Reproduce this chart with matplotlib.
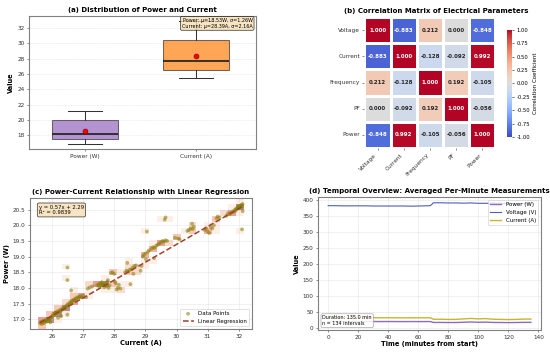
import numpy as np
import matplotlib
matplotlib.use("Agg")
import matplotlib.pyplot as plt
import seaborn as sns

# (a) box statistics
box_labels = ["Power (W)", "Current (A)"]
box_q1 = [17.48, 26.50]
box_med = [18.17, 27.74]
box_q3 = [19.96, 30.47]
box_lo = [16.86, 25.50]
box_hi = [21.14, 32.90]
box_mean = [18.53, 28.39]
box_std = [1.26, 2.16]

# (b) correlation matrix
corr_labels = ["Voltage", "Current", "Frequency", "PF", "Power"]
corr_vals = [
    [1.000, -0.883, 0.212, 0.000, -0.848],
    [-0.883, 1.000, -0.128, -0.092, 0.992],
    [0.212, -0.128, 1.000, 0.192, -0.105],
    [0.000, -0.092, 0.192, 1.000, -0.056],
    [-0.848, 0.992, -0.105, -0.056, 1.000],
]

# (c) scatter points (current, power)
sc_current = [25.62, 25.65, 25.68, 25.70, 25.72, 25.75, 25.78, 25.80, 25.83, 25.85, 25.88, 25.90,
              25.93, 25.96, 26.00, 26.03, 26.05, 26.08, 26.10, 26.13, 26.16, 26.18, 26.21, 26.24,
              26.27, 26.30, 26.33, 26.36, 26.39, 26.42, 26.45, 26.48, 26.51, 26.54, 26.57, 26.60,
              26.63, 26.66, 26.69, 26.72, 26.75, 26.78, 26.81, 26.85, 26.88, 26.92, 26.95, 27.00,
              26.50, 26.50, 26.50, 26.62, 26.20, 26.30, 25.95,
              27.10, 27.15, 27.22, 27.30,
              27.45, 27.50, 27.52, 27.55, 27.58, 27.60, 27.62, 27.65, 27.68, 27.70, 27.72, 27.75,
              27.78, 27.80, 27.82, 27.85, 27.90, 27.95, 28.00, 28.02, 28.05, 28.08, 28.12, 28.15, 28.20,
              28.35, 28.40, 28.42, 28.45, 28.50, 28.52, 28.55, 28.60, 28.62, 28.65, 28.70,
              28.85, 28.88, 28.92, 28.95, 29.00, 29.02, 29.05, 29.08, 29.12,
              29.20, 29.25, 29.28, 29.30, 29.35, 29.40, 29.45, 29.50, 29.55, 29.60, 29.65, 29.62, 29.65, 29.70,
              29.95, 30.05, 30.10,
              30.35, 30.40, 30.45, 30.50, 30.55, 30.52,
              30.90, 30.95, 31.00, 31.05, 31.10, 31.15, 31.20,
              31.28, 31.32, 31.38,
              31.60, 31.65, 31.70,
              31.80, 31.85, 31.88, 31.90, 31.92, 31.95, 31.98, 32.00, 32.02, 32.05, 32.08, 32.10,
              32.12, 32.10, 32.12, 31.75]
sc_power = [16.87, 16.92, 16.85, 16.90, 16.95, 16.88, 16.93, 16.97, 16.92, 17.00, 16.96, 17.02,
            16.99, 17.05, 17.08, 17.12, 17.18, 17.15, 17.20, 17.22, 17.19, 17.25, 17.22, 17.28,
            17.26, 17.32, 17.30, 17.36, 17.34, 17.40, 17.38, 17.44, 17.48, 17.45, 17.52, 17.55,
            17.50, 17.58, 17.62, 17.60, 17.66, 17.64, 17.70, 17.68, 17.72, 17.74, 17.70, 17.76,
            18.65, 18.25, 17.15, 17.92, 17.05, 17.10, 16.90,
            17.70, 17.98, 18.02, 18.05,
            18.08, 18.12, 18.05, 18.15, 18.10, 18.18, 18.08, 18.12, 18.02, 18.15, 18.10, 18.05,
            18.20, 18.25, 18.00, 18.08, 18.48, 18.50, 18.45, 18.20, 18.15, 17.95, 18.00, 18.10, 17.98,
            18.50, 18.55, 18.80, 18.52, 18.58, 18.12, 18.60, 18.65, 18.45, 18.70, 18.72,
            18.55, 18.70, 19.00, 19.05, 19.10, 18.92, 19.80, 19.15, 19.20,
            19.25, 19.30, 18.95, 19.28, 19.35, 19.38, 19.42, 19.45, 19.50, 19.48, 19.52, 20.18, 20.25, 19.50,
            19.60, 19.58, 19.55,
            19.82, 19.85, 19.90, 20.05, 19.95, 19.88,
            19.85, 19.90, 19.80, 19.75, 19.95, 19.90, 20.00,
            20.22, 20.28, 20.25,
            20.30, 20.38, 20.35,
            20.42, 20.48, 20.45, 20.52, 20.50, 20.55, 20.58, 20.60, 20.55, 20.62, 20.65, 20.60,
            20.68, 19.87, 20.45, 20.40]
reg_slope = 0.57
reg_intercept = 2.29
reg_r2 = 0.9839

# (d) per-minute averages
t_min = [0, 5, 10, 15, 20, 25, 30, 35, 40, 45, 50, 55, 60, 65, 68, 69, 70, 75, 80, 85, 90,
         95, 100, 105, 110, 115, 120, 125, 130, 135]
volt_avg = [381, 381, 380.5, 380.5, 380.5, 380.5, 380, 380, 380, 380, 380, 379.5, 380, 380.5,
            381, 385, 390, 390, 389.5, 389.5, 389, 389.5, 388.5, 388.5, 389, 388, 388, 387.5, 387.5, 387]
curr_avg = [32.5, 32.5, 32.3, 32.5, 32.2, 32.0, 32.2, 32.0, 32.1, 32.0, 31.8, 32.0, 31.9, 32.0,
            32.0, 30.0, 27.5, 27.5, 27.0, 27.0, 28.5, 30.0, 28.5, 29.5, 27.5, 27.0, 26.5, 27.0, 28.0, 28.0]
pow_avg = [20.6, 20.6, 20.5, 20.6, 20.4, 20.3, 20.4, 20.3, 20.4, 20.3, 20.2, 20.3, 20.2, 20.3,
           20.3, 19.0, 17.5, 17.5, 17.3, 17.3, 18.0, 19.0, 18.0, 18.5, 17.5, 17.3, 17.0, 17.3, 17.8, 17.8]


def style_frame(ax):
    for s in ax.spines.values():
        s.set_edgecolor("#808080")
        s.set_linewidth(1.6)
    ax.tick_params(labelsize=8.3, colors="#333333", length=3)


fig = plt.figure(figsize=(11, 7.04), dpi=50)

# ---- (a) box plot
ax1 = fig.add_axes([0.0527, 0.5767, 0.4127, 0.3778])
stats = []
for i in range(2):
    stats.append(dict(label=box_labels[i], med=box_med[i], q1=box_q1[i], q3=box_q3[i],
                      whislo=box_lo[i], whishi=box_hi[i], mean=box_mean[i], fliers=[]))
bp = ax1.bxp(stats, positions=[1, 2], widths=0.6, patch_artist=True, showmeans=True,
             boxprops=dict(linewidth=1.5, edgecolor="#333333"),
             medianprops=dict(color="#222222", linewidth=2.5),
             whiskerprops=dict(linewidth=1.5, color="#333333"),
             capprops=dict(linewidth=1.5, color="#333333"),
             meanprops=dict(marker="o", markerfacecolor="red", markeredgecolor="darkred", markersize=7))
for patch, col in zip(bp["boxes"], ["#9467bd", "#ff7f0e"]):
    patch.set_facecolor(col)
    patch.set_alpha(0.7)
ax1.set_xlim(0.495, 2.54)
ax1.set_ylim(16.17, 33.6)
ax1.set_yticks([18, 20, 22, 24, 26, 28, 30, 32])
ax1.set_ylabel("Value", fontsize=9.5, fontweight="bold")
ax1.set_title("(a) Distribution of Power and Current", fontsize=10, fontweight="bold")
ax1.grid(axis="y", alpha=0.3, linestyle="--")
ax1.text(0.985, 0.985,
         f"Power: μ={box_mean[0]:.2f}W, σ={box_std[0]:.2f}W\nCurrent: μ={box_mean[1]:.2f}A, σ={box_std[1]:.2f}A",
         transform=ax1.transAxes, ha="right", va="top", fontsize=7, zorder=10,
         bbox=dict(boxstyle="round,pad=0.3", facecolor="wheat", alpha=0.8))
style_frame(ax1)

# ---- (b) heatmap
ax2 = fig.add_axes([0.6618, 0.5795, 0.24, 0.3722])
cax = fig.add_axes([0.9218, 0.6108, 0.0091, 0.304])
sns.heatmap(np.array(corr_vals), annot=True, fmt=".3f", cmap="coolwarm", vmin=-1, vmax=1, center=0,
            square=True, linewidths=1.5, linecolor="white", ax=ax2, cbar_ax=cax,
            xticklabels=corr_labels, yticklabels=corr_labels,
            annot_kws={"size": 8, "weight": "bold"})
ax2.set_title("(b) Correlation Matrix of Electrical Parameters", fontsize=10, fontweight="bold", x=0.55)
ax2.set_xticklabels(corr_labels, rotation=45, ha="right", fontsize=8.3)
ax2.set_yticklabels(corr_labels, rotation=0, fontsize=8.3)
ax2.tick_params(length=3, colors="#333333")
cax.tick_params(labelsize=7.5, length=3)
cax.set_yticks([-1, -0.75, -0.5, -0.25, 0, 0.25, 0.5, 0.75, 1])
cax.set_yticklabels([f"{v:.2f}" for v in [-1, -0.75, -0.5, -0.25, 0, 0.25, 0.5, 0.75, 1]])
cax.set_ylabel("Correlation Coefficient", fontsize=8)
for s in cax.spines.values():
    s.set_visible(False)

# ---- (c) scatter + regression
ax3 = fig.add_axes([0.0545, 0.0653, 0.4036, 0.3722])
ax3.hist2d(sc_current, sc_power, bins=[28, 22], range=[[25.3, 32.42], [16.69, 20.87]],
           cmap="Reds", alpha=0.45, cmin=1, vmin=0, vmax=7)
ax3.scatter(sc_current, sc_power, s=30, color="olive", alpha=0.55, edgecolors="none",
            label="Data Points", zorder=3)
xr = np.array([min(sc_current), max(sc_current)])
ax3.plot(xr, reg_slope * xr + reg_intercept, "--", color="#a0412d", linewidth=2.2,
         label="Linear Regression", zorder=4)
ax3.set_xlim(25.3, 32.42)
ax3.set_ylim(16.69, 20.87)
ax3.set_xticks([26, 27, 28, 29, 30, 31, 32])
ax3.set_yticks([17.0, 17.5, 18.0, 18.5, 19.0, 19.5, 20.0, 20.5])
ax3.set_xlabel("Current (A)", fontsize=9.5, fontweight="bold", labelpad=2)
ax3.set_ylabel("Power (W)", fontsize=9.5, fontweight="bold")
ax3.set_title("(c) Power-Current Relationship with Linear Regression", fontsize=10, fontweight="bold")
ax3.grid(alpha=0.3)
ax3.legend(loc="lower right", fontsize=8, framealpha=0.8)
ax3.text(0.04, 0.95, f"y = {reg_slope:.2f}x + {reg_intercept:.2f}\nR² = {reg_r2:.4f}",
         transform=ax3.transAxes, ha="left", va="top", fontsize=7.5,
         bbox=dict(boxstyle="round,pad=0.3", facecolor="wheat", alpha=0.8))
style_frame(ax3)

# ---- (d) temporal overview
ax4 = fig.add_axes([0.5782, 0.0625, 0.4055, 0.3778])
ax4.plot(t_min, pow_avg, color="#8c6bc2", linewidth=2, label="Power (W)")
ax4.plot(t_min, volt_avg, color="#4a5fb5", linewidth=1.6, label="Voltage (V)")
ax4.plot(t_min, curr_avg, color="#c9b52c", linewidth=2, label="Current (A)")
ax4.set_xlim(-6.75, 141.75)
ax4.set_ylim(-6, 408)
ax4.set_xticks([0, 20, 40, 60, 80, 100, 120, 140])
ax4.set_yticks([0, 50, 100, 150, 200, 250, 300, 350, 400])
ax4.set_xlabel("Time (minutes from start)", fontsize=9.5, fontweight="bold", labelpad=2)
ax4.set_ylabel("Value", fontsize=9.5, fontweight="bold")
ax4.set_title("(d) Temporal Overview: Averaged Per-Minute Measurements", fontsize=10, fontweight="bold")
ax4.grid(alpha=0.3)
ax4.legend(loc="upper right", fontsize=8, framealpha=0.8)
ax4.text(0.02, 0.03, f"Duration: {t_min[-1]:.1f} min\nn = 134 intervals",
         transform=ax4.transAxes, ha="left", va="bottom", fontsize=7,
         bbox=dict(boxstyle="round,pad=0.3", facecolor="white", edgecolor="#999999", alpha=0.85))
style_frame(ax4)

fig.savefig("out.png", dpi=50)
